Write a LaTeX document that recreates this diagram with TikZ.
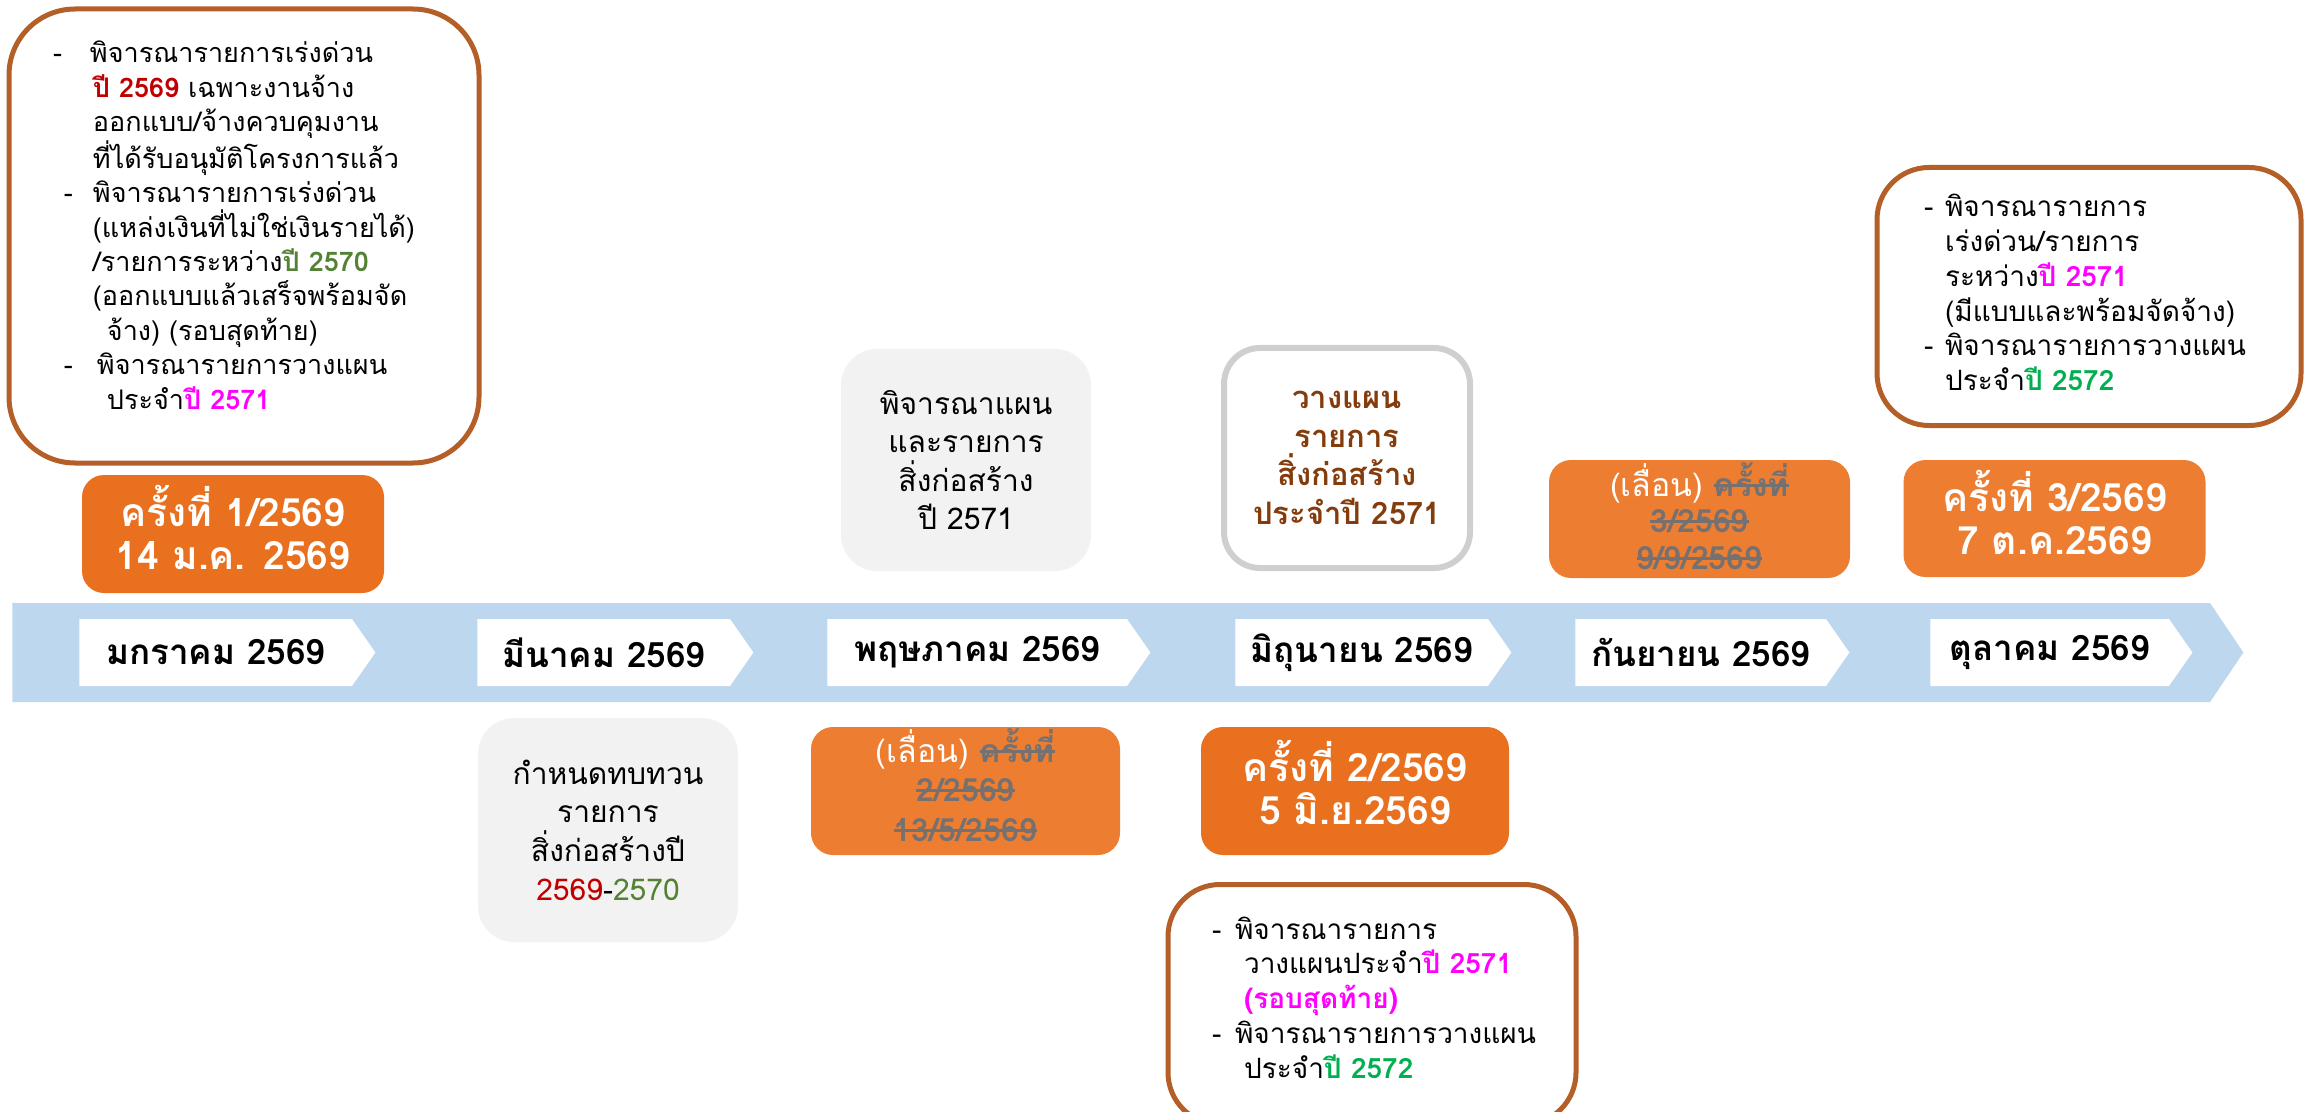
\documentclass[tikz,border=0pt]{standalone}
\usepackage{fontspec}
\setmainfont[Script=Thai]{Loma}
\usepackage{xcolor}
\usetikzlibrary{shapes.symbols}

% ขีดฆ่าข้อความ
\newsavebox{\strkbox}
\newcommand{\strk}[1]{\sbox{\strkbox}{#1}\rlap{\usebox{\strkbox}}\rule[0.3em]{\wd\strkbox}{0.09em}}
% เพิ่มความลึกบรรทัดสุดท้าย (ดันข้อความขึ้น)
\newcommand{\lowdepth}[1]{\rule[-#1]{0pt}{#1}}

\begin{document}
\begin{tikzpicture}[
    x=0.5pt, y=-0.5pt,
    band/.style={signal, signal to=east, signal pointer angle=112,
                 fill=cband, inner sep=0pt, anchor=west},
    month/.style={signal, signal to=east, signal pointer angle=110,
                  fill=white, inner sep=0pt, minimum height=33.5pt, anchor=west,
                  font=\fontsize{17.5}{20}\selectfont\bfseries},
    meet/.style={rounded corners=11pt, align=center, text=white, inner sep=0pt,
                 font=\fontsize{19.5}{21.5}\selectfont\bfseries},
    moved/.style={rounded corners=11pt, align=center, text=white, inner sep=0pt,
                  fill=cmeetl, font=\fontsize{16}{18.3}\selectfont\bfseries},
    plan/.style={rounded corners=18pt, align=center, inner sep=0pt,
                 font=\fontsize{15}{19.3}\selectfont},
    note/.style={draw=cframe, line width=2.5pt, fill=white, align=left,
                 inner sep=0pt, font=\fontsize{14}{17.4}\selectfont},
]
% ---- สี ----
\definecolor{cband}{HTML}{BDD7EE}     % แถบเวลา
\definecolor{cmeetd}{HTML}{E8701F}    % ประชุม (เข้ม)
\definecolor{cmeetl}{HTML}{ED7D31}    % ประชุม (อ่อน)
\definecolor{cgrayfill}{HTML}{F2F2F2} % กล่องเทา
\definecolor{cgrayline}{HTML}{D0CECE} % ขอบเทา
\definecolor{cframe}{HTML}{B45E28}    % ขอบน้ำตาล
\definecolor{cbrown}{HTML}{843C0C}
\definecolor{cred}{HTML}{C00000}
\definecolor{cgreen}{HTML}{548235}
\definecolor{cgreenb}{HTML}{00B050}
\definecolor{cmag}{HTML}{FF00FF}
\definecolor{cstrike}{HTML}{767171}

\useasboundingbox (0,0) rectangle (2306,1112);

% ---- แถบเวลาและเดือน ----
\node[band, minimum width=1115.5pt, minimum height=49.5pt] (L) at (12,652.5) {};
\node[month, minimum width=148pt]   (M1) at (79,652.5)    {มกราคม 2569};
\node[month, minimum width=138pt]   (M2) at (477,652.5)   {มีนาคม 2569};
\node[month, minimum width=161.5pt] (M3) at (827,652.5)   {พฤษภาคม 2569};
\node[month, minimum width=138pt]   (M4) at (1235,652.5)  {มิถุนายน 2569};
\node[month, minimum width=137pt]   (M5) at (1575,652.5)  {กันยายน 2569};
\node[month, minimum width=131pt]   (M6) at (1930,652.5)  {ตุลาคม 2569};

% ---- กล่องประชุม ----
\node[meet, fill=cmeetd, minimum width=151pt, minimum height=59pt]
    (G) at (233,534) {ครั้งที่ 1/2569\\14 ม.ค. 2569\lowdepth{7pt}};
\node[moved, minimum width=154.5pt, minimum height=64pt,
      font=\fontsize{16}{19.6}\selectfont\bfseries] (H) at (965.5,791)
    {{\mdseries (เลื่อน)} {\color{cstrike}\strk{ครั้งที่}}\\
     {\color{cstrike}\strk{2/2569}}\\{\color{cstrike}\strk{13/5/2569}}\lowdepth{6pt}};
\node[meet, fill=cmeetd, minimum width=154pt, minimum height=64pt]
    (I) at (1355,791) {ครั้งที่ 2/2569\\5 มิ.ย.2569\lowdepth{9pt}};
\node[moved, minimum width=150.5pt, minimum height=59pt] (E) at (1699.5,519)
    {{\mdseries (เลื่อน)} {\color{cstrike}\strk{ครั้งที่}}\\
     {\color{cstrike}\strk{3/2569}}\\{\color{cstrike}\strk{9/9/2569}}\lowdepth{3pt}};
\node[meet, fill=cmeetl, minimum width=151pt, minimum height=58.5pt]
    (F) at (2054.5,518.5) {ครั้งที่ 3/2569\\7 ต.ค.2569\lowdepth{6pt}};

% ---- กล่องแผน ----
\node[plan, fill=cgrayfill, minimum width=125pt, minimum height=111pt]
    (C) at (966,460) {พิจารณาแผน\\และรายการ\\สิ่งก่อสร้าง\\ปี 2571};
\node[plan, draw=cgrayline, line width=3pt, fill=white, text=cbrown,
      font=\fontsize{15.5}{19.3}\selectfont\bfseries,
      minimum width=123pt, minimum height=110pt]
    (D) at (1347,458) {วางแผน\\รายการ\\สิ่งก่อสร้าง\\ประจำปี 2571};
\node[plan, fill=cgrayfill, minimum width=130pt, minimum height=112pt]
    (J) at (608,830) {กำหนดทบทวน\\รายการ\\สิ่งก่อสร้างปี\\
                      {\color{cred}2569}-{\color{cgreen}2570}};

% ---- กล่องรายละเอียด ----
\node[note, rounded corners=33pt, minimum width=235pt, minimum height=227pt,
      text width=191pt, font=\fontsize{13.5}{17.2}\selectfont]
    (A) at (244,236) {%
    \makebox[18.5pt][l]{-}พิจารณารายการเร่งด่วน\\
    \hspace*{20pt}{\bfseries\color{cred}ปี 2569} เฉพาะงานจ้าง\\
    \hspace*{20pt}ออกแบบ/จ้างควบคุมงาน\\
    \hspace*{20pt}ที่ได้รับอนุมัติโครงการแล้ว\\
    \hspace*{5.5pt}\makebox[14.5pt][l]{-}พิจารณารายการเร่งด่วน\\
    \hspace*{20pt}(แหล่งเงินที่ไม่ใช่เงินรายได้)\\
    \hspace*{20pt}/รายการระหว่าง{\bfseries\color{cgreen}ปี 2570}\\
    \hspace*{20pt}(ออกแบบแล้วเสร็จพร้อมจัด\\
    \hspace*{27pt}จ้าง) (รอบสุดท้าย)\\
    \hspace*{5.5pt}\makebox[16.5pt][l]{-}พิจารณารายการวางแผน\\
    \hspace*{27pt}ประจำ{\bfseries\color{cmag}ปี 2571}\lowdepth{11pt}};
\node[note, rounded corners=26pt, minimum width=212pt, minimum height=129pt,
      text width=165pt]
    (B) at (2089,296.5) {%
    \makebox[10.5pt][l]{-}พิจารณารายการ\\
    \hspace*{10.5pt}เร่งด่วน/รายการ\\
    \hspace*{10.5pt}ระหว่าง{\bfseries\color{cmag}ปี 2571}\\
    \hspace*{10.5pt}(มีแบบและพร้อมจัดจ้าง)\\
    \makebox[10.5pt][l]{-}พิจารณารายการวางแผน\\
    \hspace*{10.5pt}ประจำ{\bfseries\color{cgreenb}ปี 2572}\lowdepth{4pt}};
\node[note, rounded corners=26pt, minimum width=204pt, minimum height=120pt,
      text width=160pt]
    (N) at (1372,1004.5) {%
    \makebox[11.5pt][l]{-}พิจารณารายการ\\
    \hspace*{16pt}วางแผนประจำ{\bfseries\color{cmag}ปี 2571}\\
    \hspace*{16pt}{\bfseries\color{cmag}(รอบสุดท้าย)}\\
    \makebox[11.5pt][l]{-}พิจารณารายการวางแผน\\
    \hspace*{16pt}ประจำ{\bfseries\color{cgreenb}ปี 2572}\lowdepth{7pt}};
\end{tikzpicture}
\end{document}
